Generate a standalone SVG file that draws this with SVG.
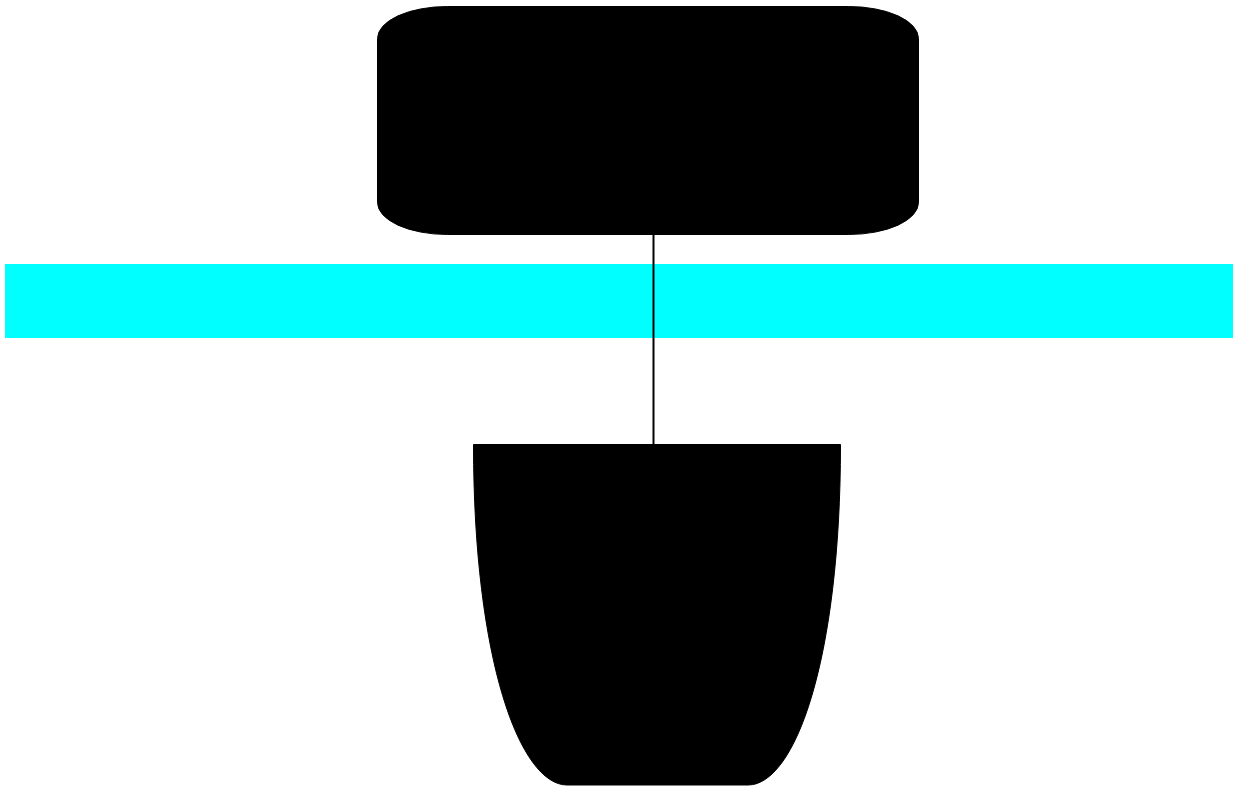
<svg xmlns="http://www.w3.org/2000/svg" width="1236" height="786" viewBox="0 0 1236 786">
<style>
.node{fill:#000;stroke:#000;stroke-width:1}
.band{fill:#00ffff}
.conn{stroke:#000;stroke-width:2;fill:none}
</style>
<rect width="1236" height="786" fill="#fff"/>
<g id="band"><rect class="band" x="5" y="264" width="1228" height="74"/></g>
<g id="node-top"><rect class="node" x="377.5" y="6.5" width="541" height="228" rx="70" ry="32"/></g>
<g id="node-bottom"><path class="node" d="M473.5,444.5 L840.5,444.5 C840.5,660 795,785 748,785 L567,785 C520,785 473.5,660 473.5,444.5 Z"/></g>
<g id="connectors"><line class="conn" x1="653.5" y1="235" x2="653.5" y2="444"/></g>
</svg>
